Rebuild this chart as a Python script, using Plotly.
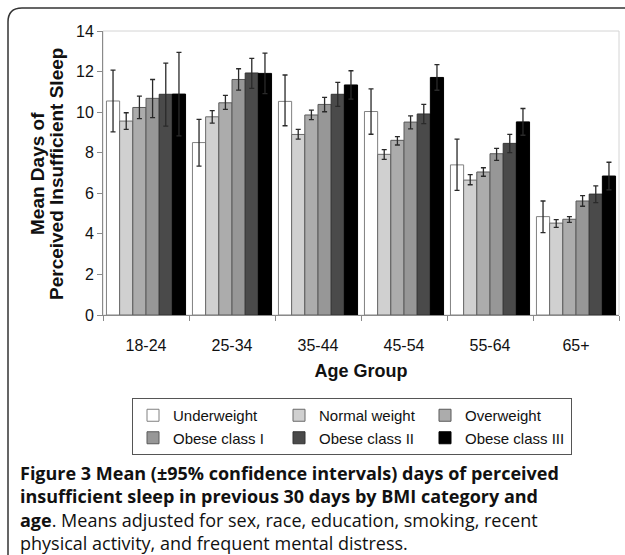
import plotly.graph_objects as go

ages = ["18-24", "25-34", "35-44", "45-54", "55-64", "65+"]
series_names = ["Underweight", "Normal weight", "Overweight",
                "Obese class I", "Obese class II", "Obese class III"]

underweight = [10.55, 8.50, 10.53, 10.03, 7.40, 4.85]
underweight_hi = [12.07, 9.64, 11.83, 11.15, 8.67, 5.62]
underweight_lo = [9.03, 7.34, 9.33, 8.91, 6.14, 4.06]

normal = [9.56, 9.77, 8.90, 7.92, 6.65, 4.53]
normal_hi = [9.97, 10.07, 9.15, 8.15, 6.92, 4.70]
normal_lo = [9.15, 9.46, 8.67, 7.67, 6.42, 4.32]

overweight = [10.23, 10.46, 9.86, 8.61, 7.05, 4.72]
overweight_hi = [10.79, 10.83, 10.10, 8.79, 7.26, 4.85]
overweight_lo = [9.68, 10.14, 9.63, 8.38, 6.84, 4.57]

obese1 = [10.68, 11.61, 10.38, 9.51, 7.95, 5.62]
obese1_hi = [11.61, 12.14, 10.73, 9.82, 8.21, 5.88]
obese1_lo = [9.73, 11.09, 10.02, 9.18, 7.62, 5.36]

obese2 = [10.88, 11.93, 10.88, 9.91, 8.46, 5.96]
obese2_hi = [12.42, 12.65, 11.47, 10.38, 8.90, 6.37]
obese2_lo = [9.31, 11.17, 10.28, 9.43, 8.00, 5.54]

obese3 = [10.89, 11.91, 11.34, 11.71, 9.52, 6.85]
obese3_hi = [12.95, 12.91, 12.04, 12.34, 10.18, 7.53]
obese3_lo = [8.83, 10.91, 10.64, 11.08, 8.86, 6.17]

y_ticks = [0, 2, 4, 6, 8, 10, 12, 14]

means = [underweight, normal, overweight, obese1, obese2, obese3]
his = [underweight_hi, normal_hi, overweight_hi, obese1_hi, obese2_hi, obese3_hi]
los = [underweight_lo, normal_lo, overweight_lo, obese1_lo, obese2_lo, obese3_lo]

fills = ["#ffffff", "#d0d0d0", "#acacac", "#979797", "#4a4a4a", "#000000"]
edges = ["#808080", "#6a6a6a", "#5a5a5a", "#5a5a5a", "#333333", "#000000"]

W, H = 625, 555
L, R, T, B = 103, 6, 31, 240
pw, ph = W - L - R, H - T - B


def px(x):
    return (x - L) / pw


def py(y):
    return (H - B - y) / ph


fig = go.Figure()
for name, m, hi, lo, fc, ec in zip(series_names, means, his, los, fills, edges):
    fig.add_trace(go.Bar(
        name=name, x=ages, y=m,
        marker=dict(color=fc, line=dict(color=ec, width=1)),
        error_y=dict(type="data", symmetric=False,
                     array=[h - v for h, v in zip(hi, m)],
                     arrayminus=[v - l for l, v in zip(lo, m)],
                     color="#2a2a2a", thickness=1.3, width=2.5),
    ))

fig.update_layout(
    width=W, height=H,
    margin=dict(l=L, r=R, t=T, b=B, autoexpand=False),
    paper_bgcolor="white", plot_bgcolor="white",
    barmode="group", bargap=0.08, bargroupgap=0,
    font=dict(family="Arial, Liberation Sans, sans-serif", color="#111111", size=15),
    showlegend=True,
    legend=dict(orientation="h", x=px(352), y=py(398), xanchor="center", yanchor="top",
                xref="paper", yref="paper",
                bordercolor="#555555", borderwidth=1, bgcolor="white",
                font=dict(size=15, family="Arial, Liberation Sans, sans-serif"),
                entrywidth=101, entrywidthmode="pixels",
                itemwidth=30, traceorder="normal"),
    xaxis=dict(
        showline=True, linecolor="#8a8a8a", linewidth=1,
        ticks="outside", tickson="boundaries", ticklen=5, tickcolor="#8a8a8a",
        tickfont=dict(size=16), ticklabelstandoff=16,
        title=dict(text="<b>Age Group</b>", font=dict(size=18), standoff=11),
        showgrid=False,
    ),
    yaxis=dict(
        range=[0, 14], tickvals=y_ticks, showline=True, linecolor="#8a8a8a", linewidth=1,
        ticks="outside", ticklen=5, tickcolor="#8a8a8a", tickfont=dict(size=16),
        showgrid=False, zeroline=False,
    ),
)

# light frame of the plot area (top/right)
fig.add_shape(type="rect", xref="paper", yref="paper", x0=0, y0=0, x1=1, y1=1,
              line=dict(color="#d4d4d4", width=1), layer="below")

# rounded outer border (left + top visible)
x0, y0t, x1, y0b = px(8), py(8), px(640), py(570)
rx, ry = 14 / pw, 14 / ph
fig.add_shape(type="path", xref="paper", yref="paper",
              path=f"M {x0} {y0b} L {x0} {y0t - ry} Q {x0} {y0t} {x0 + rx} {y0t} L {x1} {y0t}",
              line=dict(color="#333333", width=1.5))

# y axis title (two lines)
for txt, xpix in [("<b>Mean Days of</b>", 37), ("<b>Perceived Insufficient Sleep</b>", 56)]:
    fig.add_annotation(text=txt, xref="paper", yref="paper", x=px(xpix), y=py(174),
                       textangle=-90, showarrow=False,
                       font=dict(size=19, color="#111111"),
                       xanchor="center", yanchor="middle")

caption = ("<b>Figure 3 Mean (±95% confidence intervals) days of perceived<br>"
           "insufficient sleep in previous 30 days by BMI category and<br>"
           "age</b>. Means adjusted for sex, race, education, smoking, recent<br>"
           "physical activity, and frequent mental distress.")
fig.add_annotation(text=caption, xref="paper", yref="paper", x=px(19), y=py(460),
                   xanchor="left", yanchor="top", align="left", showarrow=False,
                   borderpad=0,
                   font=dict(family="Open Sans, Noto Sans, sans-serif", size=18,
                             color="#111111"))

fig.write_html("out.html", config={"displayModeBar": False},
               post_script="document.body.style.margin='0';document.body.style.overflow='hidden';")
